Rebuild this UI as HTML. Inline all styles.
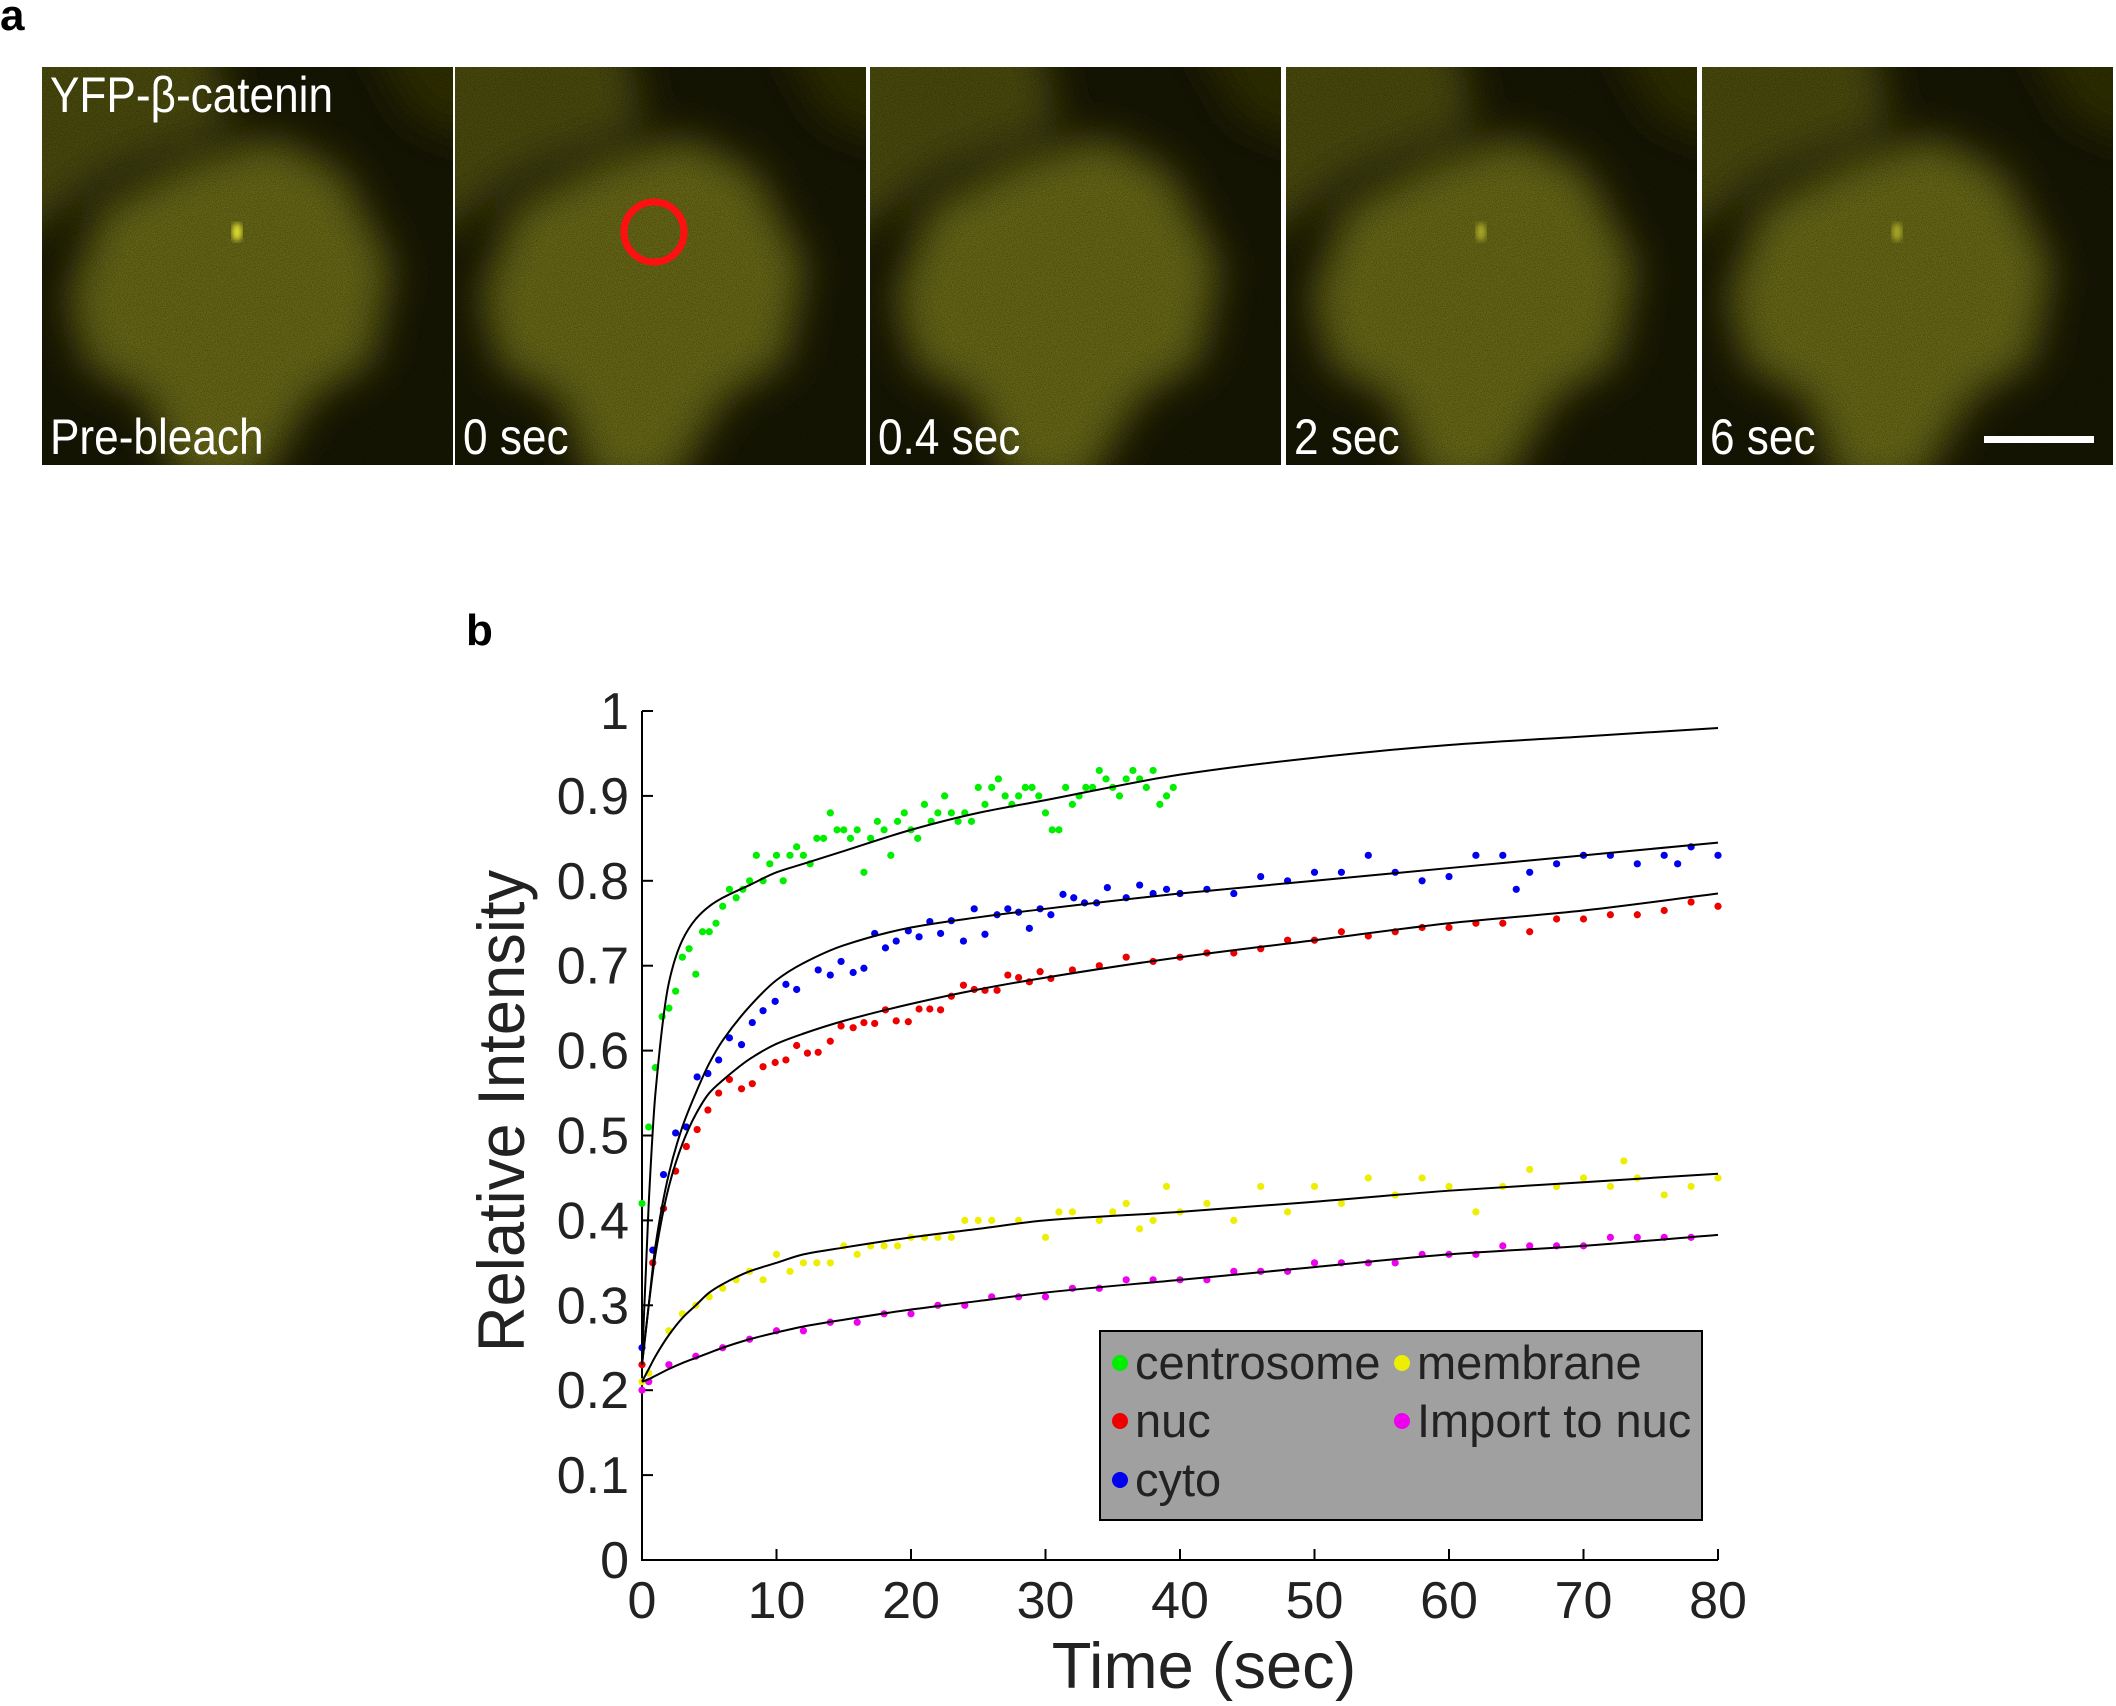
<!DOCTYPE html>
<html><head><meta charset="utf-8">
<style>
html,body{margin:0;padding:0;background:#fff;}
body{width:2116px;height:1701px;position:relative;overflow:hidden;font-family:"Liberation Sans",sans-serif;}
.lbl{font-family:"Liberation Sans",sans-serif;}
</style></head>
<body>
<svg id="fig" width="2116" height="1701" viewBox="0 0 2116 1701" xmlns="http://www.w3.org/2000/svg">
<defs>
<filter id="blur" x="-20%" y="-20%" width="140%" height="140%"><feGaussianBlur stdDeviation="20"/></filter>
<filter id="blur2"><feGaussianBlur stdDeviation="3"/></filter>
<filter id="noise" x="0" y="0" width="100%" height="100%"><feTurbulence type="fractalNoise" baseFrequency="1.2" numOctaves="2" seed="3"/><feColorMatrix values="0 0 0 0 0  0 0 0 0 0  0 0 0 0 0  0 0 0 -0.9 0.55"/></filter>
</defs>
<text x="0" y="30" font-size="44" font-weight="bold" class="lbl">a</text>
<g id="panels"></g>
<text x="466" y="645" font-size="44" font-weight="bold" class="lbl">b</text>
<g id="chart"></g>
</svg>
<script>
// ---- chart data ----
const xTicks = [0,10,20,30,40,50,60,70,80];
const yTicks = [0,0.1,0.2,0.3,0.4,0.5,0.6,0.7,0.8,0.9,1];
const yTickLabels = ["0","0.1","0.2","0.3","0.4","0.5","0.6","0.7","0.8","0.9","1"];
const greenT = [0,0.5,1,1.5,2,2.5,3,3.5,4,4.5,5,5.5,6,6.5,7,7.5,8,8.5,9,9.5,10,10.5,11,11.5,12,12.5,13,13.5,14,14.5,15,15.5,16,16.5,17,17.5,18,18.5,19,19.5,20,20.5,21,21.5,22,22.5,23,23.5,24,24.5,25,25.5,26,26.5,27,27.5,28,28.5,29,29.5,30,30.5,31,31.5,32,32.5,33,33.5,34,34.5,35,35.5,36,36.5,37,37.5,38,38.5,39,39.5];
const greenV = [0.42,0.51,0.58,0.64,0.65,0.67,0.71,0.72,0.69,0.74,0.74,0.75,0.77,0.79,0.78,0.79,0.80,0.83,0.80,0.82,0.83,0.80,0.83,0.84,0.83,0.82,0.85,0.85,0.88,0.86,0.86,0.85,0.86,0.81,0.85,0.87,0.86,0.83,0.87,0.88,0.86,0.85,0.89,0.87,0.88,0.90,0.88,0.87,0.88,0.87,0.91,0.89,0.91,0.92,0.90,0.89,0.90,0.91,0.91,0.90,0.88,0.86,0.86,0.91,0.89,0.90,0.91,0.91,0.93,0.92,0.91,0.90,0.92,0.93,0.92,0.91,0.93,0.89,0.90,0.91];
const blueT = [0,0.8,1.6,2.5,3.3,4.1,4.9,5.7,6.5,7.4,8.2,9,9.9,10.7,11.5,13.1,14,14.8,15.7,16.5,17.3,18.1,18.9,19.8,20.6,21.4,22.2,23,23.9,24.7,25.5,26.4,27.2,28,28.8,29.6,30.4,31.3,32.1,32.9,33.8,34.6,36,37,38,39,40,42,44,46,48,50,52,54,56,58,60,62,64,65,66,68,70,72,74,76,77,78,80];
const blueV = [0.25,0.365,0.454,0.503,0.51,0.569,0.573,0.589,0.615,0.607,0.633,0.647,0.658,0.678,0.672,0.695,0.689,0.705,0.692,0.697,0.738,0.721,0.729,0.741,0.734,0.752,0.738,0.753,0.729,0.767,0.737,0.76,0.767,0.763,0.744,0.767,0.76,0.784,0.78,0.774,0.774,0.792,0.78,0.795,0.785,0.79,0.785,0.79,0.785,0.805,0.80,0.81,0.81,0.83,0.81,0.80,0.805,0.83,0.83,0.79,0.81,0.82,0.83,0.83,0.82,0.83,0.82,0.84,0.83];
const redT = [0,0.8,1.6,2.5,3.3,4.1,4.9,5.7,6.5,7.4,8.2,9,9.9,10.7,11.5,12.3,13.1,14,14.8,15.7,16.5,17.3,18.1,18.9,19.8,20.6,21.4,22.2,23,23.9,24.7,25.5,26.4,27.2,28,28.8,29.6,30.4,32,34,36,38,40,42,44,46,48,50,52,54,56,58,60,62,64,66,68,70,72,74,76,78,80];
const redV = [0.23,0.35,0.414,0.458,0.487,0.507,0.53,0.55,0.566,0.555,0.561,0.581,0.586,0.589,0.606,0.597,0.598,0.611,0.629,0.627,0.633,0.632,0.648,0.635,0.634,0.649,0.649,0.648,0.664,0.677,0.672,0.671,0.671,0.689,0.686,0.681,0.693,0.685,0.695,0.70,0.71,0.705,0.71,0.715,0.715,0.72,0.73,0.73,0.74,0.735,0.74,0.745,0.745,0.75,0.75,0.74,0.755,0.755,0.76,0.76,0.765,0.775,0.77];
const yellowT = [0,0.5,2,3,4,5,6,7,8,9,10,11,12,13,14,15,16,17,18,19,20,21,22,23,24,25,26,28,30,31,32,34,35,36,37,38,39,40,42,44,46,48,50,52,54,56,58,60,62,64,66,68,70,72,73,74,76,78,80];
const yellowV = [0.21,0.22,0.27,0.29,0.30,0.31,0.32,0.33,0.34,0.33,0.36,0.34,0.35,0.35,0.35,0.37,0.36,0.37,0.37,0.37,0.38,0.38,0.38,0.38,0.40,0.40,0.40,0.40,0.38,0.41,0.41,0.40,0.41,0.42,0.39,0.40,0.44,0.41,0.42,0.40,0.44,0.41,0.44,0.42,0.45,0.43,0.45,0.44,0.41,0.44,0.46,0.44,0.45,0.44,0.47,0.45,0.43,0.44,0.45];
const magentaT = [0,0.5,2,4,6,8,10,12,14,16,18,20,22,24,26,28,30,32,34,36,38,40,42,44,46,48,50,52,54,56,58,60,62,64,66,68,70,72,74,76,78];
const magentaV = [0.20,0.21,0.23,0.24,0.25,0.26,0.27,0.27,0.28,0.28,0.29,0.29,0.30,0.30,0.31,0.31,0.31,0.32,0.32,0.33,0.33,0.33,0.33,0.34,0.34,0.34,0.35,0.35,0.35,0.35,0.36,0.36,0.36,0.37,0.37,0.37,0.37,0.38,0.38,0.38,0.38];
const fitT = [0,0.5,1,2,3,4,5,6,8,10,12,15,20,25,30,40,50,60,70,80];
const fitGreen = [0.23,0.42,0.55,0.68,0.73,0.755,0.77,0.78,0.795,0.81,0.82,0.835,0.86,0.88,0.895,0.925,0.945,0.96,0.97,0.98];
const fitBlue = [0.23,0.30,0.37,0.455,0.51,0.55,0.585,0.612,0.652,0.683,0.703,0.724,0.745,0.757,0.767,0.785,0.80,0.815,0.83,0.845];
const fitRed = [0.23,0.30,0.36,0.44,0.49,0.525,0.55,0.565,0.59,0.608,0.62,0.635,0.655,0.672,0.686,0.71,0.73,0.75,0.765,0.785];
const fitYellow = [0.21,0.225,0.24,0.265,0.285,0.30,0.315,0.325,0.34,0.35,0.36,0.368,0.38,0.39,0.40,0.41,0.422,0.435,0.445,0.455];
const fitMagenta = [0.21,0.213,0.217,0.225,0.232,0.238,0.244,0.25,0.26,0.268,0.275,0.283,0.295,0.305,0.315,0.33,0.345,0.36,0.37,0.383];
const legendLabels = ["centrosome","nuc","cyto","membrane","Import to nuc"];

const NS="http://www.w3.org/2000/svg";
function mk(tag,attrs,parent){const e=document.createElementNS(NS,tag);for(const k in attrs)e.setAttribute(k,attrs[k]);parent.appendChild(e);return e;}

// ---- microscopy panels ----
const svg=document.getElementById('fig');
const defs=svg.querySelector('defs');
const panels=document.getElementById('panels');
const px=[42,455,870,1286,1702], pw=411, py=67, ph=398;
const plabels=["Pre-bleach","0 sec","0.4 sec","2 sec","6 sec"];
px.forEach((x,i)=>{
  const cp=mk('clipPath',{id:'clip'+i},defs);
  mk('rect',{x:x,y:py,width:pw,height:ph},cp);
  const g=mk('g',{'clip-path':'url(#clip'+i+')'},panels);
  
  
  mk('rect',{x:x,y:py,width:pw,height:ph,fill:'#161603'},g);
  const cg=mk('g',{filter:'url(#blur)'},g);
  mk('polygon',{points:`${x-40},${py-40} ${x+170},${py-40} ${x+190},${py+60} ${x+60},${py+110} ${x-40},${py+190}`,fill:'#4a4a0a'},cg);
  mk('polygon',{points:`${x+320},${py-40} ${x+450},${py-40} ${x+450},${py+80} ${x+370},${py+50}`,fill:'#2e2e06'},cg);
  mk('polygon',{points:`${x+25},${py+230} ${x+60},${py+140} ${x+150},${py+95} ${x+230},${py+70} ${x+300},${py+105} ${x+350},${py+200} ${x+330},${py+295} ${x+270},${py+330} ${x+215},${py+420} ${x+140},${py+420} ${x+105},${py+330} ${x+45},${py+300}`,fill:'#666612'},cg);
  mk('rect',{x:x,y:py,width:pw,height:ph,filter:'url(#noise)'},g);
  if(i===0||i===3||i===4){mk('ellipse',{cx:x+195,cy:py+165,rx:5,ry:9,fill:i===0?'#e0e030':'#a8a828',filter:'url(#blur2)'},g);}
  const t=mk('text',{x:x+8,y:py+387,'font-size':48,fill:'#fff','class':'lbl',transform:`translate(${x+8},${py+387}) scale(0.92,1.05) translate(${-(x+8)},${-(py+387)})`},panels);
  t.textContent=plabels[i];
  
  
});
const tl=mk('text',{x:50,y:112,'font-size':48,fill:'#fff','class':'lbl',transform:'translate(50,112) scale(0.92,1.05) translate(-50,-112)'},panels);
tl.textContent="YFP-β-catenin";


const rc=mk('circle',{cx:654,cy:232,r:30,fill:'none',stroke:'#ff1010','stroke-width':7},panels);


const sb=mk('rect',{x:1984,y:436,width:110,height:7,fill:'#fff'},panels);



// ---- chart ----
const chart=document.getElementById('chart');
const X0=642,X1=1718,Y0=1560,Y1=711;
const sx=v=>X0+(v-0)/(80-0)*(X1-X0);
const sy=v=>Y0-(v-0)/(1-0)*(Y0-Y1);
const ax=mk('path',{d:`M${X0},${Y1} L${X0},${Y0} L${X1},${Y0}`,fill:'none',stroke:'#000','stroke-width':2},chart);


xTicks.forEach(v=>{
  mk('line',{x1:sx(v),x2:sx(v),y1:Y0,y2:Y0-11,stroke:'#000','stroke-width':2},chart);
  const t=mk('text',{x:sx(v),y:Y0+58,'font-size':52,'text-anchor':'middle',fill:'#222','class':'lbl'},chart);
  t.textContent=v;
  
  
});
yTicks.forEach((v,i)=>{
  mk('line',{x1:X0,x2:X0+11,y1:sy(v),y2:sy(v),stroke:'#000','stroke-width':2},chart);
  const t=mk('text',{x:X0-13,y:sy(v)+18,'font-size':52,'text-anchor':'end',fill:'#222','class':'lbl'},chart);
  t.textContent=yTickLabels[i];
  
  
});
const xl=mk('text',{x:1204,y:1688,'font-size':65,'text-anchor':'middle',fill:'#222','class':'lbl'},chart);
xl.textContent="Time (sec)";


const yl=mk('text',{x:0,y:0,'font-size':66,'text-anchor':'middle',fill:'#222','class':'lbl',transform:'translate(524,1111) rotate(-90) scale(0.96,1)'},chart);
yl.textContent="Relative Intensity";



function monoPath(xs,ys){
  const n=xs.length, d=[], m=new Array(n);
  for(let i=0;i<n-1;i++) d.push((ys[i+1]-ys[i])/(xs[i+1]-xs[i]));
  m[0]=d[0]; m[n-1]=d[n-2];
  for(let i=1;i<n-1;i++){ m[i]=(d[i-1]*d[i]<=0)?0:(2/(1/d[i-1]+1/d[i])); }
  let p='M'+sx(xs[0])+','+sy(ys[0]);
  for(let i=0;i<n-1;i++){
    const h=xs[i+1]-xs[i];
    const c1x=xs[i]+h/3, c1y=ys[i]+m[i]*h/3, c2x=xs[i+1]-h/3, c2y=ys[i+1]-m[i+1]*h/3;
    p+=` C${sx(c1x)},${sy(c1y)} ${sx(c2x)},${sy(c2y)} ${sx(xs[i+1])},${sy(ys[i+1])}`;
  }
  return p;
}

const series=[[greenT,greenV,'#00ee00','centrosome'],[blueT,blueV,'#0000ee','cyto'],[redT,redV,'#ee0000','nuc'],[yellowT,yellowV,'#eeee00','membrane'],[magentaT,magentaV,'#ee00ee','import']];
series.forEach(s=>{
  const g=mk('g',{fill:s[2]},chart);
  
  
  s[0].forEach((t,i)=>{
    const c=mk('circle',{cx:sx(t),cy:sy(s[1][i]),r:3.6},g);
    
    
  });
});
[[fitGreen,'centrosome'],[fitBlue,'cyto'],[fitRed,'nuc'],[fitYellow,'membrane'],[fitMagenta,'import']].forEach(f=>{
  const p=mk('path',{d:monoPath(fitT,f[0]),fill:'none',stroke:'#000','stroke-width':2},chart);
  
  
});

const lg=mk('g',{},chart);


mk('rect',{x:1100,y:1331,width:602,height:189,fill:'#a0a0a0',stroke:'#000','stroke-width':2},lg);
const lpos=[[1120,1363],[1120,1421],[1120,1480],[1402,1363],[1402,1421]];
const lcol=['#00ee00','#ee0000','#0000ee','#eeee00','#ee00ee'];
legendLabels.forEach((l,i)=>{
  const e=mk('g',{},lg);
  
  
  mk('circle',{cx:lpos[i][0],cy:lpos[i][1],r:8,fill:lcol[i]},e);
  const t=mk('text',{x:lpos[i][0]+15,y:lpos[i][1]+16,'font-size':47,fill:'#222','class':'lbl'},e);
  t.textContent=l;
});
</script>
</body></html>
